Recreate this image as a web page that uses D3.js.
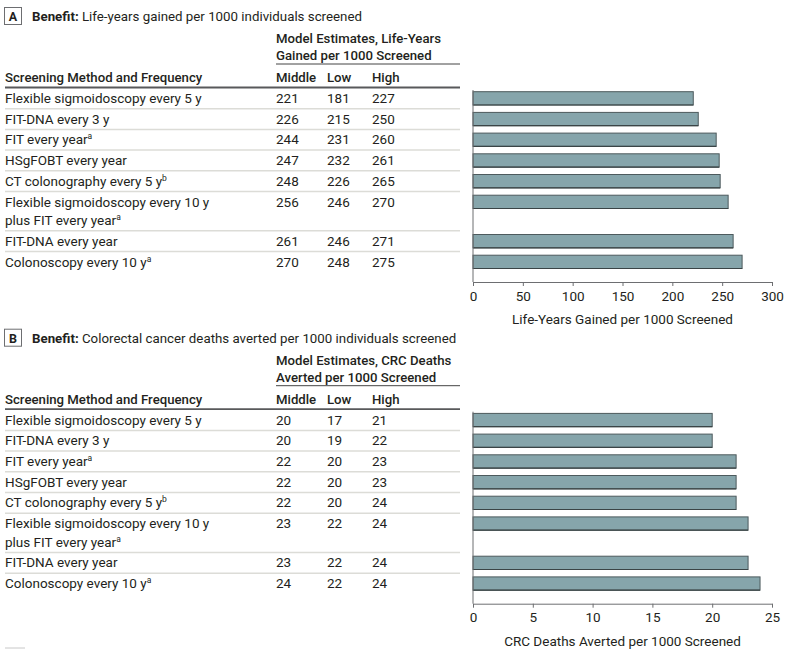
<!DOCTYPE html>
<html>
<head>
<meta charset="UTF-8">
<title>Screening benefit</title>
<script src="https://d3js.org/d3.v7.min.js"></script>
<style>
  body { margin: 0; background: #fff; }
  svg { display: block; font-family: Roboto, "Liberation Sans", sans-serif; }
  .txt { font-size: 13.5px; fill: #231f20; }
  .hdr { font-size: 13.2px; fill: #231f20; font-weight: 500; }
  .ttl { font-size: 13.3px; fill: #231f20; }
  .axis text { font-size: 13.5px; fill: #231f20; font-family: Roboto, sans-serif; }
  .axis path, .axis line { stroke: #6d6e71; }
</style>
</head>
<body>
<script>
// rows of the table, top to bottom
var methods = [
  ["Flexible sigmoidoscopy every 5 y"],
  ["FIT-DNA every 3 y"],
  ["FIT every year"],
  ["HSgFOBT every year"],
  ["CT colonography every 5 y"],
  ["Flexible sigmoidoscopy every 10 y", "plus FIT every year"],
  ["FIT-DNA every year"],
  ["Colonoscopy every 10 y"]
];
var footnotes = ["", "", "a", "", "b", "a", "", "a"];

// panel A: life-years gained per 1000 screened
var lifeMiddle = [221, 226, 244, 247, 248, 256, 261, 270];
var lifeLow    = [181, 215, 231, 232, 226, 246, 246, 248];
var lifeHigh   = [227, 250, 260, 261, 265, 270, 271, 275];
var lifeTicks  = [0, 50, 100, 150, 200, 250, 300];

// panel B: CRC deaths averted per 1000 screened
var deathMiddle = [20, 20, 22, 22, 22, 23, 23, 24];
var deathLow    = [17, 19, 20, 20, 20, 22, 22, 22];
var deathHigh   = [21, 22, 23, 23, 24, 24, 24, 24];
var deathTicks  = [0, 5, 10, 15, 20, 25];

var W = 789, H = 649;
var svg = d3.select("body").append("svg").attr("width", W).attr("height", H);

var panels = [
  { letter: "A", oy: 0, title: "Life-years gained per 1000 individuals screened",
    head1: "Model Estimates, Life-Years", head2: "Gained per 1000 Screened",
    mid: lifeMiddle, low: lifeLow, high: lifeHigh, ticks: lifeTicks, max: 300,
    axisTitle: "Life-Years Gained per 1000 Screened" },
  { letter: "B", oy: 321.7, title: "Colorectal cancer deaths averted per 1000 individuals screened",
    head1: "Model Estimates, CRC Deaths", head2: "Averted per 1000 Screened",
    mid: deathMiddle, low: deathLow, high: deathHigh, ticks: deathTicks, max: 25,
    axisTitle: "CRC Deaths Averted per 1000 Screened" }
];

var rowH = 20.7, lineH = 18.6, tableTop = 88, tableRight = 460;
var colX = [276, 327, 372];

// cumulative row tops (two-line rows are taller)
var rowTops = [];
var yy = tableTop;
methods.forEach(function(m) { rowTops.push(yy); yy += rowH + (m.length - 1) * lineH; });

panels.forEach(function(p) {
  var g = svg.append("g").attr("transform", "translate(0," + p.oy + ")");

  // panel letter box + title
  g.append("rect").attr("x", 4.5).attr("y", 7.5).attr("width", 17).attr("height", 17)
    .attr("fill", "none").attr("stroke", "#6d6e71").attr("stroke-width", 1);
  g.append("text").attr("class", "ttl").attr("x", 13).attr("y", 21)
    .attr("text-anchor", "middle").style("font-weight", 700).style("font-size", "12.5px").text(p.letter);
  var t = g.append("text").attr("class", "ttl").attr("x", 32).attr("y", 21);
  t.append("tspan").style("font-weight", 700).text("Benefit:");
  t.append("tspan").text(" " + p.title);

  // column headers
  g.append("text").attr("class", "hdr").attr("x", colX[0]).attr("y", 43).text(p.head1);
  g.append("text").attr("class", "hdr").attr("x", colX[0]).attr("y", 60).text(p.head2);
  g.append("line").attr("x1", colX[0]).attr("x2", tableRight).attr("y1", 64).attr("y2", 64)
    .attr("stroke", "#444").attr("stroke-width", 1);
  g.append("text").attr("class", "hdr").attr("x", 5).attr("y", 82).text("Screening Method and Frequency");
  ["Middle", "Low", "High"].forEach(function(h, i) {
    g.append("text").attr("class", "hdr").attr("x", colX[i]).attr("y", 82).text(h);
  });
  g.append("line").attr("x1", 5).attr("x2", tableRight).attr("y1", tableTop - 0.5).attr("y2", tableTop - 0.5)
    .attr("stroke", "#58595b").attr("stroke-width", 1.8);

  // table rows
  methods.forEach(function(m, i) {
    var top = rowTops[i];
    m.forEach(function(line, j) {
      var tx = g.append("text").attr("class", "txt").attr("x", 5).attr("y", top + 15 + j * lineH).text(line);
      if (j === m.length - 1 && footnotes[i]) {
        tx.append("tspan").attr("dy", -5).style("font-size", "8.5px").text(footnotes[i]);
      }
    });
    [p.mid[i], p.low[i], p.high[i]].forEach(function(v, k) {
      g.append("text").attr("class", "txt").attr("x", colX[k]).attr("y", top + 15).text(v);
    });
    if (i > 0) {
      g.append("line").attr("x1", 5).attr("x2", tableRight).attr("y1", top).attr("y2", top)
        .attr("stroke", "#dcdcd7").attr("stroke-width", 1.5);
    }
  });

  // bar chart
  var x = d3.scaleLinear().domain([0, p.max]).range([473, 772]);
  var y = d3.scaleOrdinal().domain(d3.range(methods.length)).range(rowTops.map(function(r) { return r + 3.7; }));
  var barH = 13.3, axisY = 282;

  g.selectAll(".bar").data(p.mid).enter().append("rect")
    .attr("class", "bar")
    .attr("x", x(0))
    .attr("y", function(d, i) { return y(i); })
    .attr("width", function(d) { return x(d) - x(0); })
    .attr("height", barH)
    .attr("fill", "#86a5ab")
    .attr("stroke", "#4d5a5d")
    .attr("stroke-width", 1);
  // darker bottom edge
  g.selectAll(".shade").data(p.mid).enter().append("line")
    .attr("x1", x(0)).attr("x2", function(d) { return x(d); })
    .attr("y1", function(d, i) { return y(i) + barH; })
    .attr("y2", function(d, i) { return y(i) + barH; })
    .attr("stroke", "#3a4446").attr("stroke-width", 1.2);

  g.append("line").attr("x1", x(0)).attr("x2", x(0)).attr("y1", 90).attr("y2", axisY)
    .attr("stroke", "#6d6e71").attr("stroke-width", 1);

  var ax = g.append("g").attr("class", "axis").attr("transform", "translate(0," + axisY + ")")
    .call(d3.axisBottom(x).tickValues(p.ticks).tickSize(4).tickSizeOuter(0).tickPadding(5));
  ax.select(".domain").attr("stroke-width", 1);

  g.append("text").attr("class", "txt").attr("x", (x(0) + x(p.max)) / 2).attr("y", 324)
    .attr("text-anchor", "middle").text(p.axisTitle);
});

// top edge of the next panel's letter box, cut off at the bottom
svg.append("line").attr("x1", 5).attr("x2", 25).attr("y1", 648).attr("y2", 648)
  .attr("stroke", "#c8c8c8").attr("stroke-width", 1);
</script>
</body>
</html>
